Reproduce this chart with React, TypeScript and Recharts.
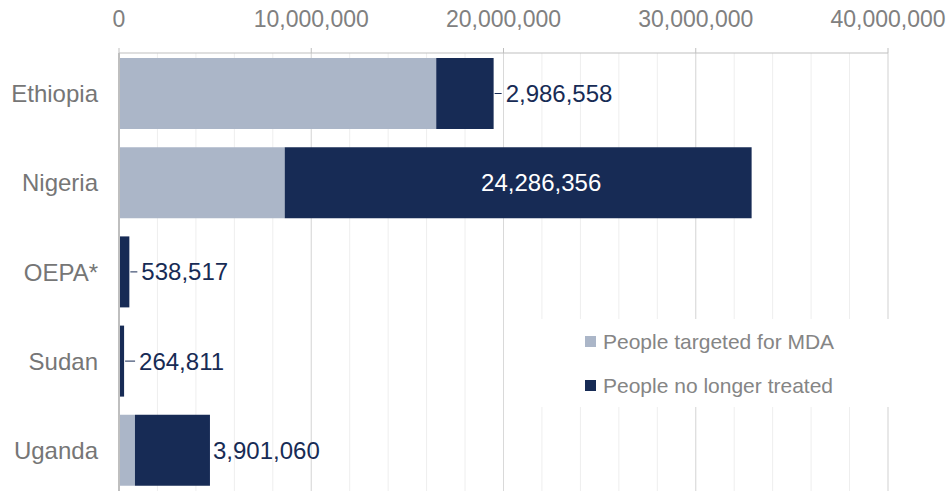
import { BarChart, Bar, XAxis, YAxis, CartesianGrid, Legend, LabelList } from "recharts"

const countries = ["Ethiopia", "Nigeria", "OEPA*", "Sudan", "Uganda"]
const targeted = [16500000, 8620000, 0, 0, 830000]
const noLongerTreated = [2986558, 24286356, 538517, 264811, 3901060]
const axisTicks = [0, 10000000, 20000000, 30000000, 40000000]
const minorTicks = [
  0, 2000000, 4000000, 6000000, 8000000, 10000000, 12000000, 14000000, 16000000, 18000000, 20000000,
  22000000, 24000000, 26000000, 28000000, 30000000, 32000000, 34000000, 36000000, 38000000, 40000000,
]
const seriesNames = ["People targeted for MDA", "People no longer treated"]

const rows = countries.map((name, i) => ({
  name,
  targeted: targeted[i],
  dropped: noLongerTreated[i],
}))

const LIGHT = "#abb6c8"
const DARK = "#172b55"
const FONT = '"Liberation Sans", Arial, sans-serif'

// how each value label sits against its bar
const labelPlacement: Record<string, { mode: "inside" | "leader" | "right"; lead?: number }> = {
  Ethiopia: { mode: "leader", lead: 8 },
  Nigeria: { mode: "inside" },
  "OEPA*": { mode: "leader", lead: 8 },
  Sudan: { mode: "leader", lead: 11 },
  Uganda: { mode: "right" },
}

const fmt = (v: number) => Number(v).toLocaleString("en-US")

const DroppedLabel = (props: any) => {
  const { x, y, width, height, value, index } = props
  const place = labelPlacement[countries[index]]
  const cy = y + height / 2
  const end = x + width
  const text = fmt(value)
  if (place.mode === "inside") {
    return (
      <text x={x + width / 2 + 23} y={cy} dy="0.35em" fill="#fff" fontSize={24} textAnchor="middle">
        {text}
      </text>
    )
  }
  if (place.mode === "leader") {
    const lead = place.lead ?? 8
    return (
      <g>
        <line x1={end + 1} y1={cy} x2={end + lead} y2={cy} stroke={DARK} strokeWidth={1} />
        <text x={end + lead + 4} y={cy} dy="0.35em" fill={DARK} fontSize={24}>
          {text}
        </text>
      </g>
    )
  }
  return (
    <text x={end + 3} y={cy} dy="0.35em" fill={DARK} fontSize={24}>
      {text}
    </text>
  )
}

const LegendBox = ({ payload }: any) => {
  const items = seriesNames
    .map((n) => (payload || []).find((p: any) => p.value === n))
    .filter(Boolean)
  return (
    <div
      style={{
        background: "#fff",
        width: 432,
        height: 88,
        boxSizing: "border-box",
        paddingLeft: 65,
        paddingTop: 0.5,
        fontFamily: FONT,
      }}
    >
      {items.map((p: any) => (
        <div key={p.value} style={{ height: 44, display: "flex", alignItems: "center" }}>
          <span style={{ width: 11, height: 11, background: p.color, display: "inline-block", marginRight: 7 }} />
          <span style={{ fontSize: 21, color: "#858585" }}>{p.value}</span>
        </div>
      ))}
    </div>
  )
}

const minorLines = ({ xAxis, offset }: any) => {
  if (xAxis && typeof xAxis.scale === "function") return minorTicks.map((t) => xAxis.scale(t))
  return minorTicks.map((t) => offset.left + (t / 40000000) * offset.width)
}

export default function App() {
  return (
    <div style={{ position: "absolute", left: 0, top: 0, fontFamily: FONT }}>
      <BarChart
        width={952}
        height={491}
        data={rows}
        layout="vertical"
        margin={{ top: 0, right: 64, left: 0, bottom: -4 }}
        style={{ fontFamily: FONT }}
      >
        <CartesianGrid horizontal={false} stroke="#eeeeee" strokeWidth={1} verticalCoordinatesGenerator={minorLines} />
        <CartesianGrid horizontal={false} stroke="#d9d9d9" strokeWidth={1} />
        <XAxis
          type="number"
          orientation="top"
          domain={[0, 40000000]}
          ticks={axisTicks}
          height={53}
          tickSize={5}
          tickMargin={21}
          tickFormatter={fmt}
          tick={{ fill: "#808080", fontSize: 23 }}
          axisLine={{ stroke: "#bfbfbf" }}
          tickLine={{ stroke: "#bfbfbf" }}
        />
        <YAxis
          type="category"
          dataKey="name"
          width={119}
          padding={{ top: -4, bottom: 0 }}
          tickSize={0}
          tickMargin={21}
          tick={{ fill: "#767676", fontSize: 24 }}
          axisLine={{ stroke: "#bfbfbf", strokeWidth: 2 }}
          tickLine={false}
        />
        <Bar dataKey="targeted" name={seriesNames[0]} stackId="a" fill={LIGHT} barSize={71} isAnimationActive={false} />
        <Bar dataKey="dropped" name={seriesNames[1]} stackId="a" fill={DARK} barSize={71} isAnimationActive={false}>
          <LabelList dataKey="dropped" content={DroppedLabel} />
        </Bar>
        <Legend
          layout="vertical"
          align="center"
          verticalAlign="middle"
          content={LegendBox}
          wrapperStyle={{ left: 520, top: 319, width: 432, height: 88 }}
        />
      </BarChart>
    </div>
  )
}
